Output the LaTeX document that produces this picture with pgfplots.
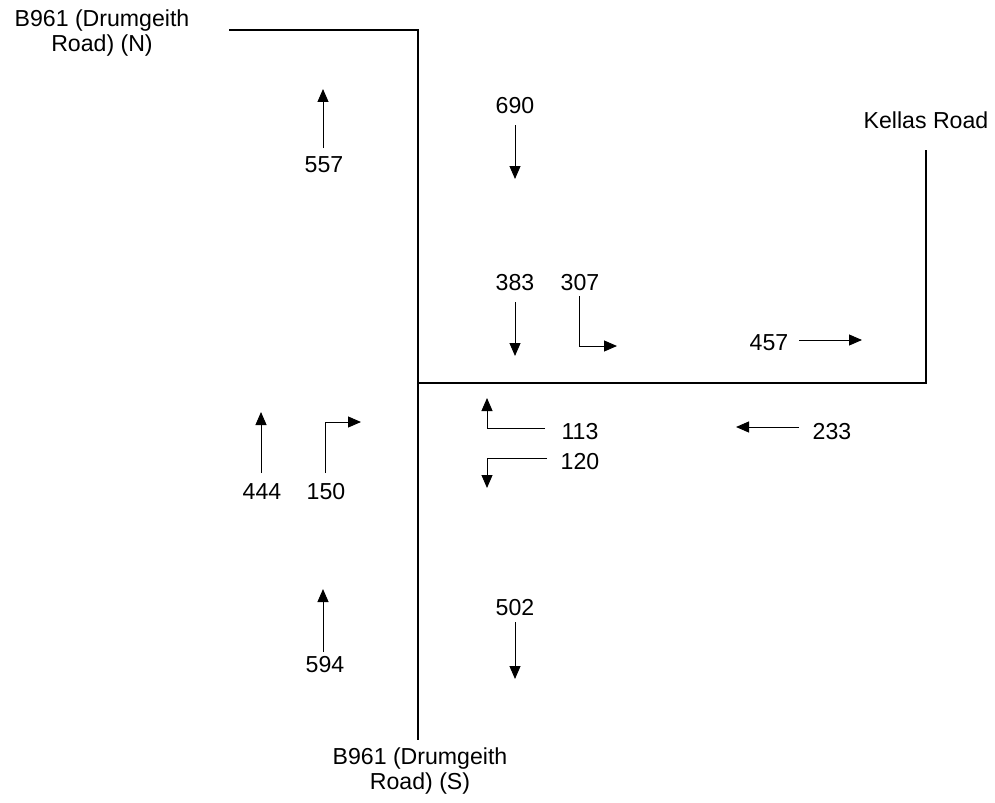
\documentclass[border=0pt]{standalone}
\usepackage{pgfplots}
\pgfplotsset{compat=1.18}
\usepackage{fontspec}
\setmainfont{Liberation Sans}
\usetikzlibrary{arrows.meta}
\tikzset{lbl/.style={font=\fontsize{11.6}{12.6}\selectfont, align=center, inner sep=0pt}}
\begin{document}
\begin{tikzpicture}
\begin{axis}[
  width=497.5bp, height=401.5bp, scale only axis,
  xmin=0, xmax=995, ymin=0, ymax=803, y dir=reverse,
  hide axis, clip=false,
  road/.style={black, line width=1bp, mark=none},
  arr/.style={black, line width=0.5bp, mark=none, -{Triangle[length=6.5bp,width=5.5bp]}},
]
\draw[draw=none] (axis cs:0,0) rectangle (axis cs:995,803);
% roads
\addplot[road] coordinates {(229,30) (418,30) (418,740)};
\addplot[road] coordinates {(418,383) (926,383) (926,150)};
% arrows
\addplot[arr] coordinates {(323,148) (323,89)};
\addplot[arr] coordinates {(515,125) (515,179)};
\addplot[arr] coordinates {(515,302) (515,356)};
\addplot[arr] coordinates {(579,296) (579,346) (617,346)};
\addplot[arr] coordinates {(799,340) (862,340)};
\addplot[arr] coordinates {(545,428) (487,428) (487,398)};
\addplot[arr] coordinates {(547,458) (487,458) (487,488)};
\addplot[arr] coordinates {(799,427) (736,427)};
\addplot[arr] coordinates {(261,473) (261,412)};
\addplot[arr] coordinates {(325,473) (325,422) (361,422)};
\addplot[arr] coordinates {(323,652) (323,589)};
\addplot[arr] coordinates {(515,622) (515,679)};
% labels
\node[lbl] at (axis cs:102,33) {B961 (Drumgeith\\Road) (N)};
\node[lbl] at (axis cs:926,120) {Kellas Road};
\node[lbl] at (axis cs:420,771) {B961 (Drumgeith\\Road) (S)};
\node[lbl] at (axis cs:324,165) {557};
\node[lbl] at (axis cs:515,106) {690};
\node[lbl] at (axis cs:515,283) {383};
\node[lbl] at (axis cs:580,283) {307};
\node[lbl] at (axis cs:769,343) {457};
\node[lbl] at (axis cs:580,432) {113};
\node[lbl] at (axis cs:580,462) {120};
\node[lbl] at (axis cs:832,432) {233};
\node[lbl] at (axis cs:262,492) {444};
\node[lbl] at (axis cs:326,492) {150};
\node[lbl] at (axis cs:325,665) {594};
\node[lbl] at (axis cs:515,608) {502};
\end{axis}
\end{tikzpicture}
\end{document}
